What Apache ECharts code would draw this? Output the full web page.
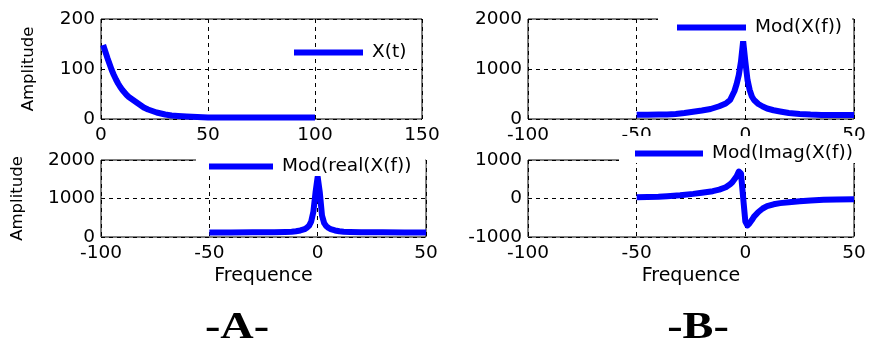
<!DOCTYPE html>
<html>
<head>
<meta charset="utf-8">
<script src="https://cdn.jsdelivr.net/npm/echarts@6/dist/echarts.min.js"></script>
<style>
  html, body { margin: 0; padding: 0; background: #fff; }
  #chart { width: 869px; height: 347px; }
</style>
</head>
<body>
<div id="chart"></div>
<script>
// Time signal X(t)
const timeSamples = [1,2,3,4,5,6,7,8,9,10,11,12,13,14,15,16,17,18,19,20,22,24,26,28,30,33,36,40,45,50,60,70,80,90,100];
const signalValues = [148,135,122,110,98,88,79,71,64,58,53,48,44,41,38,35,32,29,26,23,19,16,13,11,9,7,6,5,4,3,3,3,3,3,3];

// Modulus of the spectrum
const modFreqs = [-50,-45,-40,-36,-32,-28,-24,-20,-16,-12,-9,-7,-5,-4,-3,-2,-1,0,1,2,3,4,6,8,10,13,16,20,25,30,35,40,45,50];
const modValues = [85,86,88,92,100,120,145,170,200,255,310,380,560,700,880,1150,1560,1150,780,580,450,380,300,250,210,175,150,120,100,88,82,80,80,80];

// Modulus of the real part
const realFreqs = [-50,-40,-30,-25,-20,-15,-12,-10,-8,-6,-5,-4,-3,-2,-1,0,1,2,3,4,5,6,8,10,12,15,20,25,30,40,50];
const realValues = [120,120,121,122,124,130,137,150,170,205,240,290,400,650,1150,1560,1150,560,360,280,235,205,170,148,136,130,124,122,121,120,120];

// Imaginary part
const imagFreqs = [-50,-45,-40,-36,-30,-24,-20,-15,-12,-9,-7,-6,-5,-4,-3,-2,-1,0,1,2,3,4,6,8,10,13,16,20,25,30,36,42,50];
const imagValues = [35,40,48,60,85,120,150,190,230,293,370,422,500,580,700,650,20,-600,-700,-640,-560,-470,-350,-260,-200,-150,-120,-95,-70,-50,-34,-25,-17];

const seriesNames = ['X(t)', 'Mod(X(f))', 'Mod(real(X(f))', 'Mod(Imag(X(f))'];
const axisTitleY = 'Amplitude';
const axisTitleX = 'Frequence';
const panelTags = ['-A-', '-B-'];

const pairs = (xs, ys) => xs.map((x, i) => [x, ys[i]]);
const plain = v => String(v);

const FONT = 'DejaVu Sans';
const BLUE = '#0000ff';
const gridLine = { show: true, lineStyle: { color: '#000', width: 1, type: [4, 4] } };

function xAxis(gridIndex, min, max, interval, name, nameGap) {
  return {
    type: 'value', gridIndex, min, max, interval,
    name: name || '', nameLocation: 'middle', nameGap: nameGap || 0,
    nameTextStyle: { color: '#000', fontFamily: FONT, fontSize: 19 },
    axisLine: { show: false }, axisTick: { show: false },
    axisLabel: { color: '#000', fontFamily: FONT, fontSize: 18.5, margin: 7, formatter: plain, showMinLabel: true, showMaxLabel: true, hideOverlap: false },
    splitLine: gridLine
  };
}
function yAxis(gridIndex, min, max, interval, name, nameGap) {
  return {
    type: 'value', gridIndex, min, max, interval,
    name: name || '', nameLocation: 'middle', nameGap: nameGap || 0,
    nameTextStyle: { color: '#000', fontFamily: FONT, fontSize: 16.5 },
    axisLine: { show: false }, axisTick: { show: false },
    axisLabel: { color: '#000', fontFamily: FONT, fontSize: 18.5, margin: 6, formatter: plain, showMinLabel: true, showMaxLabel: true, hideOverlap: false },
    splitLine: gridLine
  };
}
function line(name, idx, data) {
  return {
    name, type: 'line', xAxisIndex: idx, yAxisIndex: idx, data,
    symbol: 'none', showSymbol: false, clip: false, animation: false,
    itemStyle: { color: BLUE },
    lineStyle: { color: BLUE, width: 6, join: 'round' }
  };
}
function legend(name, left, top, padding, itemWidth, bg) {
  return {
    data: [{ name, icon: 'rect' }], left, top, padding, orient: 'horizontal',
    itemWidth, itemHeight: 6, selectedMode: false,
    backgroundColor: bg, borderWidth: 0,
    textStyle: { color: '#000', fontFamily: FONT, fontSize: 18.5, padding: [0, 0, 0, 4] }
  };
}

const frame = { show: true, borderColor: '#000', borderWidth: 1, backgroundColor: 'transparent' };

const option = {
  backgroundColor: '#fff',
  animation: false,
  grid: [
    Object.assign({ left: 101, top: 19, width: 321, height: 100 }, frame),
    Object.assign({ left: 528, top: 19, width: 326, height: 100 }, frame),
    Object.assign({ left: 101, top: 160, width: 325, height: 77 }, frame),
    Object.assign({ left: 528, top: 160, width: 326, height: 77 }, frame)
  ],
  xAxis: [
    xAxis(0, 0, 150, 50),
    xAxis(1, -100, 50, 50),
    xAxis(2, -100, 50, 50, axisTitleX, 30),
    xAxis(3, -100, 50, 50, axisTitleX, 30)
  ],
  yAxis: [
    yAxis(0, 0, 200, 100, axisTitleY, 64),
    yAxis(1, 0, 2000, 1000),
    yAxis(2, 0, 2000, 1000, axisTitleY, 75),
    yAxis(3, -1000, 1000, 1000)
  ],
  legend: [
    legend(seriesNames[0], 294, 43, 0, 69, 'transparent'),
    legend(seriesNames[1], 658, 10, [8, 10, 4, 19], 69, '#fff'),
    legend(seriesNames[2], 196, 149, [8, 14, 0, 13], 64, '#fff'),
    legend(seriesNames[3], 619, 136, [8, 6, 0, 16], 68, '#fff')
  ],
  series: [
    line(seriesNames[0], 0, pairs(timeSamples, signalValues)),
    line(seriesNames[1], 1, pairs(modFreqs, modValues)),
    line(seriesNames[2], 2, pairs(realFreqs, realValues)),
    line(seriesNames[3], 3, pairs(imagFreqs, imagValues))
  ],
  graphic: [
    { type: 'text', x: 237, y: 328, scaleX: 1.25, style: { text: panelTags[0], fill: '#000', font: 'bold 37px "Liberation Serif"', textAlign: 'center', textVerticalAlign: 'middle' } },
    { type: 'text', x: 698, y: 328, scaleX: 1.25, style: { text: panelTags[1], fill: '#000', font: 'bold 37px "Liberation Serif"', textAlign: 'center', textVerticalAlign: 'middle' } }
  ]
};

const chart = echarts.init(document.getElementById('chart'), null, { renderer: 'canvas' });
chart.setOption(option);
</script>
</body>
</html>
